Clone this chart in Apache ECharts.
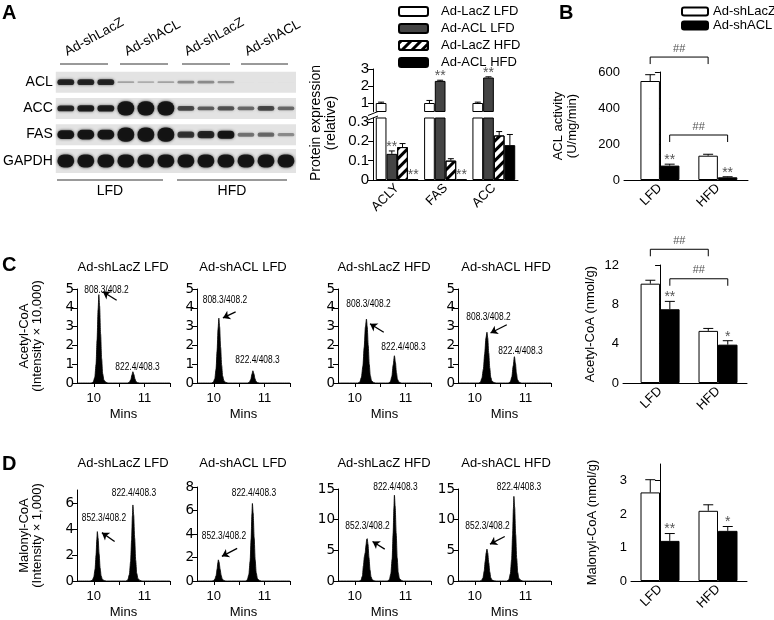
<!DOCTYPE html>
<html><head><meta charset="utf-8">
<script src="https://cdn.jsdelivr.net/npm/echarts@6/dist/echarts.min.js"></script>
<style>html,body{margin:0;padding:0;background:#fff}#c{width:774px;height:620px}</style>
</head><body><div id="c"></div>
<script>
// ================= DATA =================
// Panel A – western blot (band signal per lane, 12 lanes)
const blotRows = ['ACL', 'ACC', 'FAS', 'GAPDH'];
const laneIds = ['1','2','3','4','5','6','7','8','9','10','11','12'];
const blotGroupLabels = ['Ad-shLacZ', 'Ad-shACL', 'Ad-shLacZ', 'Ad-shACL'];
const blotDietLabels = ['LFD', 'HFD'];
const blotACL   = [0.9, 0.9, 0.9, 0.3, 0.25, 0.3, 0.4, 0.4, 0.35, 0.04, 0.04, 0.04];
const blotACC   = [0.9, 0.95, 0.95, 2.2, 2.2, 2.2, 0.7, 0.6, 0.65, 0.55, 0.7, 0.55];
const blotFAS   = [1.1, 1.2, 1.2, 1.8, 1.8, 1.8, 0.8, 0.9, 1.0, 0.5, 0.55, 0.4];
const blotGAPDH = [1.3, 1.3, 1.3, 1.3, 1.3, 1.3, 1.3, 1.3, 1.3, 1.3, 1.3, 1.3];

// Panel A – protein expression (relative)
const protCats = ['ACLY', 'FAS', 'ACC'];
const protNames = ['Ad-LacZ LFD', 'Ad-ACL LFD', 'Ad-LacZ HFD', 'Ad-ACL HFD'];
const protLacZLFD = [1.0, 1.0, 1.0];
const protACLLFD  = [0.135, 2.3, 2.5];
const protLacZHFD = [0.17, 0.10, 0.23];
const protACLHFD  = [0.005, 0.003, 0.18];
const protLacZLFDErr = [0.05, 0.15, 0.05];
const protACLLFDErr  = [0.015, 0.04, 0.04];
const protLacZHFDErr = [0.018, 0.01, 0.02];
const protACLHFDErr  = [0, 0, 0.055];
const protACLLFDSig = ['**', '**', '**'];
const protACLHFDSig = ['**', '**', ''];

// Panels B, C, D – bar charts
const dietCats = ['LFD', 'HFD'];
const groupNames = ['Ad-shLacZ', 'Ad-shACL'];
const aclLacZ = [550, 135];   const aclLacZErr = [35, 8];
const aclShACL = [80, 15];    const aclShACLErr = [8, 3];
const aclSig = ['**', '**'];
const aclBrackets = [[683, '##'], [250, '##']];
const acetylLacZ = [10.1, 5.3];   const acetylLacZErr = [0.35, 0.25];
const acetylShACL = [7.5, 3.9];   const acetylShACLErr = [0.8, 0.4];
const acetylSig = ['**', '*'];
const acetylBrackets = [[13.6, '##'], [10.6, '##']];
const malonylLacZ = [2.65, 2.1];  const malonylLacZErr = [0.38, 0.18];
const malonylShACL = [1.2, 1.5];  const malonylShACLErr = [0.22, 0.13];
const malonylSig = ['**', '*'];

// Panels C, D – chromatograms [minutes, intensity]
const chromTitles = ['Ad-shLacZ LFD', 'Ad-shACL LFD', 'Ad-shLacZ HFD', 'Ad-shACL HFD'];
const acChrom1 = [[9.67,0],[9.95,0],[9.99,0.05],[10.02,0.3],[10.045,1.0],[10.065,2.3],[10.085,3.9],[10.10,4.7],[10.115,4.1],[10.135,2.6],[10.155,1.3],[10.175,0.5],[10.20,0.15],[10.24,0.04],[10.28,0],[10.66,0],[10.70,0.04],[10.73,0.18],[10.75,0.42],[10.77,0.6],[10.79,0.45],[10.81,0.22],[10.83,0.08],[10.86,0.02],[10.90,0],[11.5,0]];
const acChrom2 = [[9.67,0],[9.95,0],[9.99,0.04],[10.02,0.22],[10.045,0.75],[10.065,1.7],[10.085,2.9],[10.10,3.45],[10.115,3.0],[10.135,1.9],[10.155,0.95],[10.175,0.37],[10.20,0.11],[10.24,0.03],[10.28,0],[10.66,0],[10.70,0.04],[10.73,0.2],[10.75,0.46],[10.77,0.65],[10.79,0.49],[10.81,0.24],[10.83,0.09],[10.86,0.02],[10.90,0],[11.5,0]];
const acChrom3 = [[9.67,0],[10.06,0],[10.10,0.05],[10.13,0.3],[10.16,0.9],[10.185,1.9],[10.21,3.0],[10.23,3.4],[10.245,3.0],[10.265,2.0],[10.285,1.0],[10.305,0.4],[10.33,0.12],[10.37,0.03],[10.41,0],[10.66,0],[10.70,0.06],[10.73,0.35],[10.755,0.95],[10.78,1.45],[10.80,1.1],[10.82,0.55],[10.84,0.2],[10.87,0.05],[10.91,0],[11.5,0]];
const acChrom4 = [[9.67,0],[10.07,0],[10.11,0.04],[10.14,0.25],[10.17,0.75],[10.195,1.55],[10.22,2.4],[10.24,2.7],[10.255,2.4],[10.275,1.6],[10.295,0.8],[10.315,0.3],[10.34,0.09],[10.38,0.02],[10.42,0],[10.66,0],[10.70,0.06],[10.73,0.33],[10.755,0.9],[10.78,1.4],[10.80,1.05],[10.82,0.52],[10.84,0.19],[10.87,0.05],[10.91,0],[11.5,0]];
const maChrom1 = [[9.67,0],[9.93,0],[9.97,0.05],[10.00,0.3],[10.025,0.9],[10.045,2.0],[10.06,3.2],[10.07,3.8],[10.085,3.3],[10.105,2.1],[10.125,1.0],[10.145,0.4],[10.17,0.12],[10.21,0.03],[10.25,0],[10.63,0],[10.67,0.08],[10.70,0.5],[10.725,1.5],[10.745,3.2],[10.76,5.0],[10.77,5.85],[10.785,5.1],[10.805,3.3],[10.825,1.6],[10.845,0.6],[10.87,0.18],[10.91,0.04],[10.95,0],[11.5,0]];
const maChrom2 = [[9.67,0],[9.95,0],[9.99,0.03],[10.02,0.15],[10.045,0.45],[10.065,1.0],[10.08,1.55],[10.09,1.8],[10.105,1.6],[10.125,1.0],[10.145,0.5],[10.165,0.2],[10.19,0.06],[10.23,0.01],[10.27,0],[10.62,0],[10.66,0.09],[10.69,0.55],[10.715,1.7],[10.735,3.6],[10.75,5.7],[10.76,6.6],[10.775,5.8],[10.795,3.7],[10.815,1.8],[10.835,0.7],[10.86,0.2],[10.90,0.05],[10.94,0],[11.5,0]];
const maChrom3 = [[9.67,0],[10.08,0],[10.12,0.1],[10.15,0.8],[10.17,2.5],[10.19,4.0],[10.205,4.6],[10.22,5.8],[10.235,6.8],[10.245,6.9],[10.26,6.0],[10.28,3.8],[10.30,1.8],[10.32,0.7],[10.345,0.2],[10.38,0.05],[10.42,0],[10.64,0],[10.68,0.2],[10.71,1.2],[10.735,3.6],[10.755,7.8],[10.77,12.0],[10.78,14.0],[10.795,12.2],[10.815,7.8],[10.835,3.8],[10.855,1.4],[10.88,0.4],[10.92,0.1],[10.96,0],[11.5,0]];
const maChrom4 = [[9.67,0],[10.09,0],[10.13,0.08],[10.16,0.5],[10.185,1.6],[10.205,3.2],[10.225,4.6],[10.24,5.2],[10.255,4.6],[10.275,3.0],[10.295,1.5],[10.315,0.55],[10.34,0.15],[10.38,0.03],[10.42,0],[10.63,0],[10.67,0.2],[10.70,1.2],[10.725,3.5],[10.745,7.6],[10.76,11.8],[10.77,13.8],[10.785,12.0],[10.805,7.6],[10.825,3.7],[10.845,1.4],[10.87,0.4],[10.91,0.1],[10.95,0],[11.5,0]];
const acTransitions = ['808.3/408.2', '822.4/408.3'];
const maTransitions = ['852.3/408.2', '822.4/408.3'];

// ================= CHART =================
const FONT = '"Liberation Sans", Arial, sans-serif';
const chart = echarts.init(document.getElementById('c'));

const grids = [], xAxes = [], yAxes = [], series = [], graphic = [];
function addGrid(g) { grids.push(g); return grids.length - 1; }

// ---------- Blot ----------
const gBlot = addGrid({left: 49, top: 69, width: 247, height: 105});
xAxes.push({gridIndex: gBlot, type: 'category', data: laneIds, position: 'top',
  axisLine: {show: false}, axisTick: {show: false}, axisLabel: {show: false}});
yAxes.push({gridIndex: gBlot, type: 'category', data: blotRows, inverse: true,
  axisLine: {show: false}, axisTick: {show: false},
  axisLabel: {fontSize: 14, color: '#000', margin: 3, fontFamily: FONT}});
series.push({type: 'custom', xAxisIndex: gBlot, yAxisIndex: gBlot, silent: true,
  data: blotRows.map((r, i) => [0, i]),
  renderItem: (params, api) => {
    const row = api.value(1);
    const c = api.coord([0, row]);
    const cs = params.coordSys;
    const h = row === 3 ? 24 : 21;
    return {type: 'rect', shape: {x: cs.x, y: c[1] - h / 2, width: cs.width, height: h}, style: {fill: '#e3e3e3'}};
  }});
const blotData = [];
[blotACL, blotACC, blotFAS, blotGAPDH].forEach((arr, r) => arr.forEach((s, l) => blotData.push([l, r, s])));
const blotBaseH = [6.5, 6.5, 8, 10];
series.push({type: 'custom', xAxisIndex: gBlot, yAxisIndex: gBlot, silent: true, data: blotData,
  renderItem: (params, api) => {
    const l = api.value(0), r = api.value(1), s = api.value(2);
    const c = api.coord([l, r]);
    const bw = api.size([1, 0])[0];
    const h = Math.min(16, blotBaseH[r] * s);
    const w = bw * 0.84;
    const op = Math.min(1, s) * 0.93;
    return {type: 'rect', shape: {x: c[0] - w / 2, y: c[1] - h / 2, width: w, height: h, r: h / 2},
      style: {fill: 'rgba(15,15,15,' + op + ')', shadowBlur: 3, shadowColor: 'rgba(0,0,0,' + (op * 0.8) + ')'}};
  }});
// lane-group labels (rotated), anchored on the first lane of each group
series.push({type: 'custom', xAxisIndex: gBlot, yAxisIndex: gBlot, silent: true,
  data: blotGroupLabels.map((t, i) => [i * 3, 0]),
  renderItem: (params, api) => {
    const c = api.coord([api.value(0), 0]);
    const cs = params.coordSys;
    return {type: 'text', x: c[0] + 3, y: cs.y - 10, rotation: Math.PI / 6.3,
      style: {text: blotGroupLabels[params.dataIndex], font: '13.5px ' + FONT, fill: '#000', align: 'left', verticalAlign: 'bottom'}};
  }});

// ---------- Panel A bar chart (broken axis) ----------
const BW_A = 10.7;
const protVals = [protLacZLFD, protACLLFD, protLacZHFD, protACLHFD];
const protErrs = [protLacZLFDErr, protACLLFDErr, protLacZHFDErr, protACLHFDErr];
const protSigs = [['', '', ''], protACLLFDSig, ['', '', ''], protACLHFDSig];
const hatch = {symbol: 'rect', symbolSize: 1, dashArrayX: [1, 0], dashArrayY: [2.6, 3.4], rotation: -Math.PI / 4, color: '#000'};
const protStyles = [
  {color: '#fff', borderColor: '#000', borderWidth: 1},
  {color: '#444', borderColor: '#000', borderWidth: 1},
  {color: '#fff', borderColor: '#000', borderWidth: 1, decal: hatch},
  {color: '#000', borderColor: '#000', borderWidth: 1}
];
const gAU = addGrid({left: 373, top: 69, width: 145, height: 42.5});
const gAL = addGrid({left: 373, top: 118, width: 145, height: 62});
const axLine = {show: true, lineStyle: {color: '#000', width: 1}};
const axTickStyle = {lineStyle: {color: '#000', width: 1}};
xAxes.push({gridIndex: gAU, type: 'category', data: protCats, show: false});
yAxes.push({gridIndex: gAU, type: 'value', min: 0.5, max: 3, splitLine: {show: false}, axisLine: axLine,
  axisTick: Object.assign({show: true, length: 5, customValues: [1, 2, 3]}, axTickStyle),
  axisLabel: {customValues: [1, 2, 3], fontSize: 15, color: '#000', margin: 4, fontFamily: FONT}});
xAxes.push({gridIndex: gAL, type: 'category', data: protCats, axisLine: axLine, axisTick: {show: false},
  axisLabel: {rotate: 45, fontSize: 13, color: '#000', margin: 6, fontFamily: FONT}});
yAxes.push({gridIndex: gAL, type: 'value', min: 0, max: 0.32, splitLine: {show: false}, axisLine: axLine,
  axisTick: Object.assign({show: true, length: 5, customValues: [0, 0.1, 0.2, 0.3]}, axTickStyle),
  axisLabel: {customValues: [0, 0.1, 0.2, 0.3], fontSize: 15, color: '#000', margin: 4, fontFamily: FONT}});
[gAU, gAL].forEach(g => protVals.forEach((vals, k) => series.push({
  name: protNames[k], type: 'bar', xAxisIndex: g, yAxisIndex: g, data: vals, barWidth: BW_A, barGap: '0%',
  itemStyle: protStyles[k], clip: true, silent: true})));

function errSeries(gi, items, cap, starFont) {
  return {type: 'custom', xAxisIndex: gi, yAxisIndex: gi, silent: true, z: 5,
    data: items.map(it => [it.x, it.v]),
    renderItem: (params, api) => {
      const it = items[params.dataIndex];
      const base = api.coord([it.x, it.v]);
      const top = api.coord([it.x, it.v + it.e]);
      const cx = base[0] + it.off;
      const ch = [];
      if (it.e > 0) {
        ch.push({type: 'line', shape: {x1: cx, y1: base[1], x2: cx, y2: top[1]}, style: {stroke: '#000', lineWidth: 1}});
        ch.push({type: 'line', shape: {x1: cx - cap / 2, y1: top[1], x2: cx + cap / 2, y2: top[1]}, style: {stroke: '#000', lineWidth: 1}});
      }
      if (it.s) ch.push({type: 'text', style: {text: it.s, x: cx, y: top[1] + 3, align: 'center', verticalAlign: 'bottom',
        fill: '#555', font: starFont}});
      return {type: 'group', children: ch};
    }};
}
const protItemsU = [], protItemsL = [];
protVals.forEach((vals, k) => vals.forEach((v, x) => {
  const it = {x: x, v: v, e: protErrs[k][x], s: protSigs[k][x], off: (k - 1.5) * BW_A};
  if (v >= 0.5) protItemsU.push(it); else protItemsL.push(it);
}));
series.push(errSeries(gAU, protItemsU, 6, '14px ' + FONT));
series.push(errSeries(gAL, protItemsL, 6, '14px ' + FONT));

// ---------- Generic two-group bar chart (B, C, D) ----------
const BW = 19.5;
function twoGroupBars(gi, vals, errs, sig, brackets, ymax, yTicks, yName, nameGap, xmin, xmax) {
  xAxes.push({gridIndex: gi, type: 'value', min: xmin, max: xmax, splitLine: {show: false}, axisLine: axLine,
    axisTick: {show: false},
    axisLabel: {customValues: [0, 1], formatter: v => dietCats[Math.round(v)], rotate: 45, fontSize: 13, color: '#000', margin: 6, fontFamily: FONT}});
  yAxes.push({gridIndex: gi, type: 'value', min: 0, max: ymax, splitLine: {show: false}, axisLine: axLine,
    axisTick: Object.assign({show: true, length: 5, customValues: yTicks}, axTickStyle),
    axisLabel: {customValues: yTicks, fontSize: 13, color: '#000', margin: 4, fontFamily: FONT},
    name: yName, nameLocation: 'middle', nameGap: nameGap,
    nameTextStyle: {fontSize: 13, color: '#000', fontFamily: FONT, lineHeight: 14}});
  const styles = [{color: '#fff', borderColor: '#000', borderWidth: 1}, {color: '#000', borderColor: '#000', borderWidth: 1}];
  vals.forEach((arr, k) => series.push({name: groupNames[k], type: 'bar', xAxisIndex: gi, yAxisIndex: gi,
    data: arr.map((v, i) => [i, v]), barWidth: BW, barGap: '0%', itemStyle: styles[k], silent: true}));
  const items = [];
  vals.forEach((arr, k) => arr.forEach((v, i) => items.push({x: i, v: v, e: errs[k][i], s: k === 1 ? sig[i] : '', off: (k - 0.5) * BW})));
  series.push(errSeries(gi, items, 10, '14px ' + FONT));
  if (brackets) {
    series.push({type: 'custom', xAxisIndex: gi, yAxisIndex: gi, silent: true,
      data: brackets.map(b => [0, b[0]]),
      renderItem: (params, api) => {
        const b = brackets[params.dataIndex];
        const k = params.dataIndex;
        const p1 = api.coord([0, b[0]]), p2 = api.coord([1, b[0]]);
        const x1 = p1[0] + (k - 0.5) * BW, x2 = p2[0] + (k - 0.5) * BW, y = p1[1];
        return {type: 'group', children: [
          {type: 'polyline', shape: {points: [[x1, y + 7], [x1, y], [x2, y], [x2, y + 7]]}, style: {stroke: '#000', fill: null, lineWidth: 1}},
          {type: 'text', style: {text: b[1], x: (x1 + x2) / 2, y: y - 3, align: 'center', verticalAlign: 'bottom', fill: '#555', font: '11px ' + FONT}}
        ]};
      }});
  }
}
const gB = addGrid({left: 624, top: 72, width: 124, height: 108});
twoGroupBars(gB, [aclLacZ, aclShACL], [aclLacZErr, aclShACLErr], aclSig, aclBrackets, 600, [0, 200, 400, 600],
  'ACL activity\n(U/mg/min)', 45, -0.62, 1.52);

// ---------- Chromatograms ----------
const chromLefts = [77, 197, 338, 458];
function chrom(gi, data, ymax, yTicks, ann, yName) {
  xAxes.push({gridIndex: gi, type: 'value', min: 9.67, max: 11.5, splitLine: {show: false}, axisLine: axLine,
    axisTick: Object.assign({show: true, length: 4, customValues: [10, 10.5, 11, 11.5]}, axTickStyle),
    axisLabel: {customValues: [10, 11], fontSize: 13, color: '#000', margin: 9, fontFamily: FONT},
    name: 'Mins', nameLocation: 'middle', nameGap: 25, nameTextStyle: {fontSize: 13, color: '#000', fontFamily: FONT}});
  yAxes.push({gridIndex: gi, type: 'value', min: 0, max: ymax, splitLine: {show: false}, axisLine: axLine,
    axisTick: Object.assign({show: true, length: 5, customValues: yTicks}, axTickStyle),
    axisLabel: {customValues: yTicks, fontSize: 13.5, color: '#000', margin: 3, fontFamily: '"DejaVu Sans", sans-serif'},
    name: yName || '', nameLocation: 'middle', nameGap: 33,
    nameTextStyle: {fontSize: 13, color: '#000', fontFamily: FONT, lineHeight: 13}});
  series.push({type: 'line', xAxisIndex: gi, yAxisIndex: gi, data: data, showSymbol: false, silent: true,
    smooth: 0.25, smoothMonotone: 'x',
    lineStyle: {color: '#000', width: 0.8}, areaStyle: {color: '#000', opacity: 1},
    markLine: {silent: true, symbol: ['none', 'arrow'], symbolSize: 7, label: {show: false},
      lineStyle: {color: '#000', width: 1.3, type: 'solid'}, animation: false,
      data: [[{coord: ann.arrow[0]}, {coord: ann.arrow[1]}]]}});
  series.push({type: 'custom', xAxisIndex: gi, yAxisIndex: gi, silent: true,
    data: ann.labels.map(l => l[0]),
    renderItem: (params, api) => {
      const p = api.coord([api.value(0), api.value(1)]);
      return {type: 'text', x: p[0], y: p[1], scaleX: 0.84,
        style: {text: ann.labels[params.dataIndex][1], font: '10px ' + FONT, fill: '#000', align: 'center', verticalAlign: 'middle'}};
    }});
}
const acAnn = [
  {labels: [[[10.25, 4.95], acTransitions[0]], [[10.86, 0.85], acTransitions[1]]], arrow: [[10.45, 4.4], [10.18, 4.85]]},
  {labels: [[[10.22, 4.4], acTransitions[0]], [[10.86, 1.22], acTransitions[1]]], arrow: [[10.43, 3.78], [10.18, 3.46]]},
  {labels: [[[10.27, 4.2], acTransitions[0]], [[10.96, 1.9], acTransitions[1]]], arrow: [[10.57, 2.7], [10.3, 3.15]]},
  {labels: [[[10.27, 3.5], acTransitions[0]], [[10.9, 1.7], acTransitions[1]]], arrow: [[10.63, 3.1], [10.31, 2.66]]}
];
const acData = [acChrom1, acChrom2, acChrom3, acChrom4];
acData.forEach((d, i) => {
  const gi = addGrid({left: chromLefts[i], top: 289, width: 93, height: 94});
  chrom(gi, d, 5, [0, 1, 2, 3, 4, 5], acAnn[i], i === 0 ? 'Acetyl-CoA\n(Intensity × 10,000)' : '');
});
const gC = addGrid({left: 623, top: 265, width: 124, height: 118});
twoGroupBars(gC, [acetylLacZ, acetylShACL], [acetylLacZErr, acetylShACLErr], acetylSig, acetylBrackets, 12, [0, 4, 8, 12],
  'Acetyl-CoA (nmol/g)', 26, -0.64, 1.5);

const maAnn = [
  {labels: [[[10.2, 4.86], maTransitions[0]], [[10.79, 6.76], maTransitions[1]]], arrow: [[10.41, 3.04], [10.16, 3.72]]},
  {labels: [[[10.2, 3.8], maTransitions[0]], [[10.79, 7.5], maTransitions[1]]], arrow: [[10.46, 2.78], [10.16, 2.1]]},
  {labels: [[[10.25, 8.9], maTransitions[0]], [[10.8, 15.3], maTransitions[1]]], arrow: [[10.59, 5.2], [10.35, 6.45]]},
  {labels: [[[10.25, 8.9], maTransitions[0]], [[10.87, 15.3], maTransitions[1]]], arrow: [[10.59, 7.26], [10.3, 6.0]]}
];
const maData = [maChrom1, maChrom2, maChrom3, maChrom4];
const maGrid = [{top: 490, height: 92, max: 7, ticks: [0, 2, 4, 6]}, {top: 487, height: 95, max: 8, ticks: [0, 2, 4, 6, 8]},
  {top: 489, height: 93, max: 15, ticks: [0, 5, 10, 15]}, {top: 489, height: 93, max: 15, ticks: [0, 5, 10, 15]}];
maData.forEach((d, i) => {
  const gi = addGrid({left: chromLefts[i], top: maGrid[i].top, width: 93, height: maGrid[i].height});
  chrom(gi, d, maGrid[i].max, maGrid[i].ticks, maAnn[i], i === 0 ? 'Malonyl-CoA\n(Intensity × 1,000)' : '');
});
const gD = addGrid({left: 631, top: 464, width: 116, height: 117});
twoGroupBars(gD, [malonylLacZ, malonylShACL], [malonylLacZErr, malonylShACLErr], malonylSig, null, 3.5, [0, 1, 2, 3],
  'Malonyl-CoA (nmol/g)', 32, -0.5, 1.5);

// ---------- Free text & decorations ----------
function txt(t, x, y, font) {
  graphic.push({type: 'text', x: x, y: y, silent: true,
    style: {text: t, font: font, fill: '#000', align: 'left', verticalAlign: 'top'}});
}
const BOLD = 'bold 20px ' + FONT;
txt('A', 2, 3, BOLD); txt('B', 559, 3, BOLD); txt('C', 2, 255, BOLD); txt('D', 2, 454, BOLD);
const titleCenters = [123, 243, 384, 506];
chromTitles.forEach((t, i) => {
  graphic.push({type: 'text', x: titleCenters[i], y: 267, silent: true, style: {text: t, font: '13px ' + FONT, fill: '#000', align: 'center', verticalAlign: 'middle'}});
  graphic.push({type: 'text', x: titleCenters[i], y: 463, silent: true, style: {text: t, font: '13px ' + FONT, fill: '#000', align: 'center', verticalAlign: 'middle'}});
});
graphic.push({type: 'text', x: 324, y: 123, rotation: Math.PI / 2, silent: true,
  style: {text: 'Protein expression\n(relative)', font: '14px ' + FONT, lineHeight: 15, fill: '#000', align: 'center', verticalAlign: 'middle'}});
// blot group lines
[[60, 108], [120, 168], [182, 230], [241, 288]].forEach(s => graphic.push({type: 'line', silent: true,
  shape: {x1: s[0], y1: 64, x2: s[1], y2: 64}, style: {stroke: '#000', lineWidth: 0.8}}));
[[57, 163], [177, 287]].forEach((s, i) => {
  graphic.push({type: 'line', silent: true, shape: {x1: s[0], y1: 180, x2: s[1], y2: 180}, style: {stroke: '#000', lineWidth: 0.8}});
  graphic.push({type: 'text', x: (s[0] + s[1]) / 2, y: 184, silent: true, style: {text: blotDietLabels[i], font: '14px ' + FONT, fill: '#000', align: 'center', verticalAlign: 'top'}});
});
// axis break marks
[[114.5], [119]].forEach(p => graphic.push({type: 'line', silent: true,
  shape: {x1: 368, y1: p[0] + 1, x2: 378, y2: p[0] - 3}, style: {stroke: '#000', lineWidth: 1}}));

chart.setOption({
  animation: false,
  backgroundColor: '#fff',
  textStyle: {fontFamily: FONT},
  grid: grids, xAxis: xAxes, yAxis: yAxes, series: series, graphic: graphic,
  legend: [
    {data: protNames, orient: 'vertical', left: 393, top: 0, itemWidth: 29, itemHeight: 9, itemGap: 4,
      selectedMode: false, textStyle: {fontSize: 13, color: '#000', fontFamily: FONT, padding: [0, 0, 0, 8]}},
    {data: groupNames, orient: 'vertical', left: 676, top: 0, itemWidth: 26, itemHeight: 8, itemGap: 1,
      selectedMode: false, textStyle: {fontSize: 13, color: '#000', fontFamily: FONT}}
  ]
});
</script></body></html>
